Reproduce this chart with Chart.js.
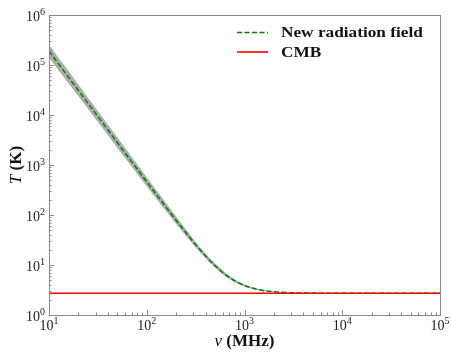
<!DOCTYPE html>
<html>
<head>
<meta charset="utf-8">
<script src="https://cdn.jsdelivr.net/npm/chart.js@4"></script>
<style>
    html, body { margin: 0; padding: 0; background: #fff; }
    #wrap { width: 451px; height: 352px; }
</style>
</head>
<body>
<div id="wrap"><canvas id="chart" width="451" height="352"></canvas></div>
<script>
// values (nu in MHz, T in K)
const freqs = [10, 15, 20, 30, 50, 70, 100, 150, 200, 300, 400, 500, 700, 1000, 1500, 2000, 3000, 5000, 10000, 100000];
const tempNew = [190000, 65500, 30900, 10700, 2820, 1170, 463, 162.5, 78.3, 29.0, 15.15, 9.69, 5.63, 3.88, 3.13, 2.92, 2.79, 2.74, 2.73, 2.725];
const bandHigh = [255000, 87000, 40500, 13800, 3570, 1460, 570, 197, 92.8, 32.8, 16.9, 10.7, 6.10, 4.08, 3.22, 2.97, 2.81, 2.75, 2.73, 2.725];
const bandLow = [141000, 49300, 23600, 8280, 2220, 937, 377, 135, 65.9, 25.4, 13.6, 8.8, 5.22, 3.70, 3.05, 2.88, 2.77, 2.73, 2.72, 2.725];
const cmbFreqs = [10, 100000];
const cmbTemp = [2.725, 2.725];

const xTicks = [10, 100, 1000, 10000, 100000];
const yTicks = [1, 10, 100, 1000, 10000, 100000, 1000000];

const SERIF = "'Liberation Serif', 'DejaVu Serif', serif";

function pts(xs, ys) {
    return xs.map((x, i) => ({x: x, y: ys[i]}));
}

// draws "10" with a raised exponent
function drawPow(ctx, value, x, y, align, baseline) {
    const exp = String(Math.round(Math.log10(value)));
    ctx.font = '14px ' + SERIF;
    const wb = ctx.measureText('10').width;
    ctx.font = '10px ' + SERIF;
    const we = ctx.measureText(exp).width;
    const total = wb + we;
    let x0 = x;
    if (align === 'right') x0 = x - total;
    if (align === 'center') x0 = x - total / 2;
    ctx.textAlign = 'left';
    ctx.textBaseline = 'alphabetic';
    ctx.fillStyle = '#222';
    let base = y;
    if (baseline === 'middle') base = y + 5;
    if (baseline === 'top') base = y + 11;
    ctx.font = '14px ' + SERIF;
    ctx.fillText('10', x0, base);
    ctx.font = '10px ' + SERIF;
    ctx.fillText(exp, x0 + wb, base - 6);
}

function drawPieces(ctx, pieces, x, y, center) {
    let total = 0;
    pieces.forEach(p => { ctx.font = p.font; total += ctx.measureText(p.text).width; });
    let cx = center ? x - total / 2 : x;
    pieces.forEach(p => {
        ctx.font = p.font;
        ctx.fillText(p.text, cx, y);
        cx += ctx.measureText(p.text).width;
    });
}

const framePlugin = {
    id: 'frame',
    afterDraw(chart) {
        const ctx = chart.ctx;
        const a = chart.chartArea;
        const xs = chart.scales.x;
        const ys = chart.scales.y;
        ctx.save();

        // box
        ctx.strokeStyle = '#8a8a8a';
        ctx.lineWidth = 1;
        ctx.strokeRect(Math.round(a.left) + 0.5, Math.round(a.top) + 0.5,
            Math.round(a.right - a.left), Math.round(a.bottom - a.top));

        // ticks, inward, left and bottom
        ctx.beginPath();
        yTicks.forEach((v, i) => {
            const py = Math.round(ys.getPixelForValue(v)) + 0.5;
            ctx.moveTo(a.left, py); ctx.lineTo(a.left + 5, py);
            if (i < yTicks.length - 1) {
                for (let m = 2; m <= 9; m++) {
                    const my = Math.round(ys.getPixelForValue(v * m)) + 0.5;
                    ctx.moveTo(a.left, my); ctx.lineTo(a.left + 2.5, my);
                }
            }
        });
        xTicks.forEach((v, i) => {
            const px = Math.round(xs.getPixelForValue(v)) + 0.5;
            ctx.moveTo(px, a.bottom); ctx.lineTo(px, a.bottom - 5);
            if (i < xTicks.length - 1) {
                for (let m = 2; m <= 9; m++) {
                    const mx = Math.round(xs.getPixelForValue(v * m)) + 0.5;
                    ctx.moveTo(mx, a.bottom); ctx.lineTo(mx, a.bottom - 2.5);
                }
            }
        });
        ctx.stroke();

        // tick labels
        yTicks.forEach(v => drawPow(ctx, v, a.left - 4, ys.getPixelForValue(v) + 1, 'right', 'middle'));
        xTicks.forEach(v => drawPow(ctx, v, xs.getPixelForValue(v), a.bottom + 4, 'center', 'top'));

        // axis titles
        ctx.fillStyle = '#111';
        ctx.textBaseline = 'middle';
        ctx.textAlign = 'left';
        drawPieces(ctx, [
            {text: 'ν ', font: 'italic 17px ' + SERIF},
            {text: '(MHz)', font: 'bold 17px ' + SERIF}
        ], (a.left + a.right) / 2, 342, true);

        ctx.save();
        ctx.translate(17, (a.top + a.bottom) / 2);
        ctx.rotate(-Math.PI / 2);
        drawPieces(ctx, [
            {text: 'T ', font: 'italic 17px ' + SERIF},
            {text: '(K)', font: 'bold 17px ' + SERIF}
        ], 0, 0, true);
        ctx.restore();

        // legend (text stretched a little, the original font is wider)
        const items = chart.data.datasets.filter(d => d.legendRank !== undefined)
            .sort((p, q) => p.legendRank - q.legendRank);
        items.forEach((d, i) => {
            const y = 32.5 + i * 19.5;
            ctx.strokeStyle = d.borderColor;
            ctx.lineWidth = d.borderWidth;
            ctx.setLineDash(d.borderDash || []);
            ctx.beginPath();
            ctx.moveTo(237, y);
            ctx.lineTo(268, y);
            ctx.stroke();
            ctx.setLineDash([]);
            ctx.fillStyle = '#111';
            ctx.font = 'bold 15px ' + SERIF;
            ctx.textBaseline = 'middle';
            ctx.textAlign = 'left';
            ctx.save();
            ctx.translate(281, y + 1);
            ctx.scale(1.15, 1);
            ctx.fillText(d.label, 0, 0);
            ctx.restore();
        });

        ctx.restore();
    }
};

new Chart(document.getElementById('chart').getContext('2d'), {
    type: 'line',
    data: {
        datasets: [
            {
                label: 'CMB',
                data: pts(cmbFreqs, cmbTemp),
                borderColor: '#ff0000',
                borderWidth: 1.6,
                pointRadius: 0,
                legendRank: 1,
                order: 0
            },
            {
                label: 'New radiation field',
                data: pts(freqs, tempNew),
                borderColor: '#008000',
                borderWidth: 1.5,
                borderDash: [5, 2.5],
                pointRadius: 0,
                cubicInterpolationMode: 'monotone',
                legendRank: 0,
                order: 1
            },
            {
                label: 'band high',
                data: pts(freqs, bandHigh),
                borderColor: 'rgba(0,0,0,0)',
                backgroundColor: 'rgba(128,128,128,0.65)',
                borderWidth: 0,
                pointRadius: 0,
                cubicInterpolationMode: 'monotone',
                fill: '+1',
                order: 2
            },
            {
                label: 'band low',
                data: pts(freqs, bandLow),
                borderColor: 'rgba(0,0,0,0)',
                borderWidth: 0,
                pointRadius: 0,
                cubicInterpolationMode: 'monotone',
                fill: false,
                order: 3
            }
        ]
    },
    options: {
        responsive: false,
        animation: false,
        layout: {padding: {left: 49, right: 11, top: 15, bottom: 37}},
        plugins: {
            legend: {display: false},
            tooltip: {enabled: false}
        },
        scales: {
            x: {type: 'logarithmic', min: 10, max: 100000, display: false},
            y: {type: 'logarithmic', min: 1, max: 1000000, display: false}
        }
    },
    plugins: [framePlugin]
});
</script>
</body>
</html>
